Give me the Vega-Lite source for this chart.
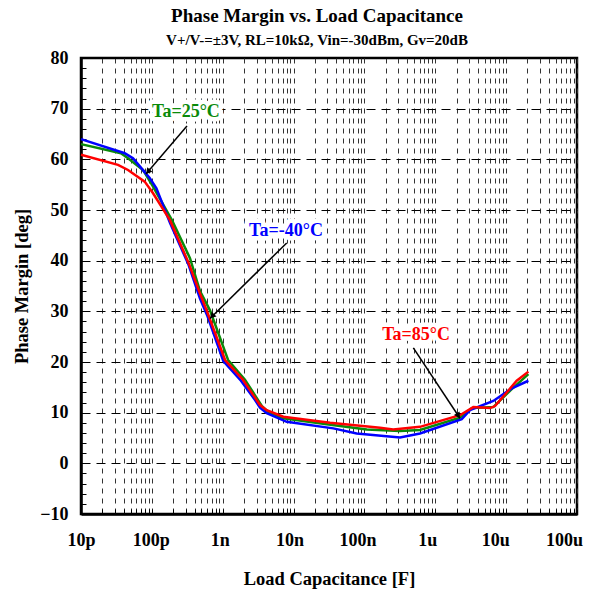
{
  "$schema": "https://vega.github.io/schema/vega-lite/v6.json",
  "width": 496,
  "height": 456,
  "autosize": "none",
  "padding": {"left": 81, "top": 58, "right": 19, "bottom": 75},
  "background": "white",
  "title": {
    "text": "Phase Margin vs. Load Capacitance",
    "subtitle": "V+/V-=±3V, RL=10kΩ, Vin=-30dBm, Gv=20dB",
    "font": "Liberation Serif",
    "fontSize": 19,
    "fontWeight": "bold",
    "color": "black",
    "subtitleFont": "Liberation Serif",
    "subtitleFontSize": 15,
    "subtitleFontWeight": "bold",
    "subtitleColor": "black",
    "subtitlePadding": 7,
    "anchor": "middle",
    "offset": 1,
    "dx": -12
  },
  "datasets": {
    "curves": [
      {"C": 1e-11, "PM": 63.0, "T": "Ta=25°C"},
      {"C": 3.66e-11, "PM": 61.2, "T": "Ta=25°C"},
      {"C": 4.61e-11, "PM": 60.2, "T": "Ta=25°C"},
      {"C": 7.5e-11, "PM": 57.9, "T": "Ta=25°C"},
      {"C": 1.04e-10, "PM": 54.6, "T": "Ta=25°C"},
      {"C": 1.92e-10, "PM": 48.0, "T": "Ta=25°C"},
      {"C": 3.45e-10, "PM": 40.5, "T": "Ta=25°C"},
      {"C": 4.78e-10, "PM": 34.0, "T": "Ta=25°C"},
      {"C": 6.61e-10, "PM": 30.2, "T": "Ta=25°C"},
      {"C": 1.19e-9, "PM": 20.4, "T": "Ta=25°C"},
      {"C": 2.06e-9, "PM": 16.5, "T": "Ta=25°C"},
      {"C": 3.58e-9, "PM": 11.3, "T": "Ta=25°C"},
      {"C": 4.36e-9, "PM": 10.2, "T": "Ta=25°C"},
      {"C": 7.16e-9, "PM": 8.9, "T": "Ta=25°C"},
      {"C": 2.93e-8, "PM": 7.7, "T": "Ta=25°C"},
      {"C": 1.08e-7, "PM": 6.7, "T": "Ta=25°C"},
      {"C": 3.18e-7, "PM": 6.4, "T": "Ta=25°C"},
      {"C": 6.08e-7, "PM": 6.6, "T": "Ta=25°C"},
      {"C": 2.23e-6, "PM": 9.0, "T": "Ta=25°C"},
      {"C": 3.27e-6, "PM": 10.9, "T": "Ta=25°C"},
      {"C": 6.59e-6, "PM": 11.1, "T": "Ta=25°C"},
      {"C": 1.17e-5, "PM": 14.5, "T": "Ta=25°C"},
      {"C": 2.06e-5, "PM": 17.6, "T": "Ta=25°C"},
      {"C": 1e-11, "PM": 64.0, "T": "Ta=-40°C"},
      {"C": 4.14e-11, "PM": 61.2, "T": "Ta=-40°C"},
      {"C": 5.42e-11, "PM": 60.2, "T": "Ta=-40°C"},
      {"C": 9.33e-11, "PM": 56.3, "T": "Ta=-40°C"},
      {"C": 1.16e-10, "PM": 54.3, "T": "Ta=-40°C"},
      {"C": 1.8e-10, "PM": 47.5, "T": "Ta=-40°C"},
      {"C": 3.27e-10, "PM": 39.3, "T": "Ta=-40°C"},
      {"C": 4.78e-10, "PM": 32.5, "T": "Ta=-40°C"},
      {"C": 6.0e-10, "PM": 29.3, "T": "Ta=-40°C"},
      {"C": 1.02e-9, "PM": 20.2, "T": "Ta=-40°C"},
      {"C": 1.81e-9, "PM": 16.3, "T": "Ta=-40°C"},
      {"C": 2.86e-9, "PM": 12.5, "T": "Ta=-40°C"},
      {"C": 3.36e-9, "PM": 11.0, "T": "Ta=-40°C"},
      {"C": 4.18e-9, "PM": 9.9, "T": "Ta=-40°C"},
      {"C": 8.0e-9, "PM": 8.2, "T": "Ta=-40°C"},
      {"C": 3.64e-8, "PM": 6.9, "T": "Ta=-40°C"},
      {"C": 7.78e-8, "PM": 5.9, "T": "Ta=-40°C"},
      {"C": 3.18e-7, "PM": 5.1, "T": "Ta=-40°C"},
      {"C": 6.08e-7, "PM": 5.9, "T": "Ta=-40°C"},
      {"C": 2.36e-6, "PM": 8.7, "T": "Ta=-40°C"},
      {"C": 3.09e-6, "PM": 10.5, "T": "Ta=-40°C"},
      {"C": 6.59e-6, "PM": 12.3, "T": "Ta=-40°C"},
      {"C": 1.2e-5, "PM": 14.8, "T": "Ta=-40°C"},
      {"C": 2.06e-5, "PM": 16.3, "T": "Ta=-40°C"},
      {"C": 1e-11, "PM": 60.9, "T": "Ta=85°C"},
      {"C": 3.33e-11, "PM": 58.9, "T": "Ta=85°C"},
      {"C": 4.61e-11, "PM": 57.9, "T": "Ta=85°C"},
      {"C": 7.93e-11, "PM": 55.6, "T": "Ta=85°C"},
      {"C": 1.04e-10, "PM": 53.3, "T": "Ta=85°C"},
      {"C": 1.8e-10, "PM": 48.0, "T": "Ta=85°C"},
      {"C": 3.27e-10, "PM": 39.7, "T": "Ta=85°C"},
      {"C": 4.78e-10, "PM": 33.5, "T": "Ta=85°C"},
      {"C": 6.0e-10, "PM": 30.0, "T": "Ta=85°C"},
      {"C": 1.08e-9, "PM": 20.4, "T": "Ta=85°C"},
      {"C": 1.93e-9, "PM": 16.5, "T": "Ta=85°C"},
      {"C": 3.36e-9, "PM": 11.5, "T": "Ta=85°C"},
      {"C": 4.18e-9, "PM": 10.5, "T": "Ta=85°C"},
      {"C": 7.16e-9, "PM": 9.2, "T": "Ta=85°C"},
      {"C": 3.27e-8, "PM": 8.0, "T": "Ta=85°C"},
      {"C": 1.66e-7, "PM": 7.0, "T": "Ta=85°C"},
      {"C": 2.55e-7, "PM": 6.7, "T": "Ta=85°C"},
      {"C": 6.08e-7, "PM": 7.2, "T": "Ta=85°C"},
      {"C": 2.23e-6, "PM": 9.5, "T": "Ta=85°C"},
      {"C": 3.44e-6, "PM": 11.1, "T": "Ta=85°C"},
      {"C": 5.92e-6, "PM": 10.9, "T": "Ta=85°C"},
      {"C": 6.97e-6, "PM": 11.3, "T": "Ta=85°C"},
      {"C": 1.41e-5, "PM": 16.3, "T": "Ta=85°C"},
      {"C": 2.06e-5, "PM": 18.1, "T": "Ta=85°C"}
    ],
    "labels": [
      {"T": "Ta=25°C", "C": 3.03e-10, "PM": 69.4},
      {"T": "Ta=-40°C", "C": 7.82e-9, "PM": 45.8},
      {"T": "Ta=85°C", "C": 5.35e-7, "PM": 25.4}
    ],
    "arrows": [
      {"T": "Ta=25°C", "C": 3.13e-10, "PM": 66.6, "C2": 8.26e-11, "PM2": 57.1, "Ch": 8.99e-11, "PMh": 57.7},
      {"T": "Ta=-40°C", "C": 8.0e-9, "PM": 43.5, "C2": 6.61e-10, "PM2": 28.6, "Ch": 7.24e-10, "PMh": 29.2},
      {"T": "Ta=85°C", "C": 4.9e-7, "PM": 22.8, "C2": 2.23e-6, "PM2": 8.9, "Ch": 2.08e-6, "PMh": 9.56}
    ]
  },
  "encoding": {
    "x": {
      "field": "C",
      "type": "quantitative",
      "scale": {"type": "log", "domain": [1e-11, 1e-4], "nice": false},
      "axis": {
        "title": "Load Capacitance [F]",
        "values": [1e-11,2e-11,3e-11,4e-11,5e-11,6e-11,7e-11,8e-11,9e-11,
                   1e-10,2e-10,3e-10,4e-10,5e-10,6e-10,7e-10,8e-10,9e-10,
                   1e-9,2e-9,3e-9,4e-9,5e-9,6e-9,7e-9,8e-9,9e-9,
                   1e-8,2e-8,3e-8,4e-8,5e-8,6e-8,7e-8,8e-8,9e-8,
                   1e-7,2e-7,3e-7,4e-7,5e-7,6e-7,7e-7,8e-7,9e-7,
                   1e-6,2e-6,3e-6,4e-6,5e-6,6e-6,7e-6,8e-6,9e-6,
                   1e-5,2e-5,3e-5,4e-5,5e-5,6e-5,7e-5,8e-5,9e-5,1e-4],
        "labelExpr": "abs(log(datum.value)/LN10 - round(log(datum.value)/LN10)) < 0.01 ? ['10p','100p','1n','10n','100n','1u','10u','100u'][round(log(datum.value)/LN10)+11] : ''",
        "labelOffset": {
          "condition": [
            {"test": "datum.value > 5e-5", "value": -13},
            {"test": "datum.value > 5e-6", "value": -11},
            {"test": "datum.value > 5e-7", "value": -8},
            {"test": "datum.value > 5e-8", "value": -7},
            {"test": "datum.value > 5e-9", "value": -4},
            {"test": "datum.value > 5e-10", "value": -3},
            {"test": "datum.value > 5e-11", "value": -1}
          ],
          "value": 0
        },
        "grid": true,
        "gridDash": [5, 5],
        "gridColor": "#333333",
        "gridWidth": 1,
        "tickSize": -5,
        "tickColor": "black",
        "tickWidth": 1,
        "labelPadding": 22,
        "labelFlush": false,
        "labelOverlap": false,
        "titlePadding": 20
      }
    },
    "y": {
      "field": "PM",
      "type": "quantitative",
      "scale": {"domain": [-10, 80], "nice": false, "zero": false},
      "axis": {
        "title": "Phase Margin [deg]",
        "values": [-10,-8,-6,-4,-2,0,2,4,6,8,10,12,14,16,18,20,22,24,26,28,30,32,34,36,38,40,42,44,46,48,50,52,54,56,58,60,62,64,66,68,70,72,74,76,78,80],
        "labelExpr": "datum.value % 10 === 0 ? datum.label : ''",
        "grid": true,
        "gridDash": [9, 6],
        "gridColor": "black",
        "gridWidth": 1,
        "gridOpacity": {"condition": {"test": "datum.value % 10 === 0", "value": 1}, "value": 0},
        "tickSize": -5,
        "tickColor": "black",
        "labelPadding": 18,
        "labelOverlap": false,
        "titlePadding": 8
      }
    }
  },
  "layer": [
    {
      "mark": {"type": "rule", "color": "black", "strokeWidth": 4},
      "encoding": {"y": {"datum": 0}, "x": null}
    },
    {
      "data": {"name": "labels"},
      "mark": {"type": "text", "font": "Liberation Serif", "fontSize": 18, "fontWeight": "bold", "align": "center", "baseline": "middle", "fill": "white", "stroke": "white", "strokeWidth": 9, "strokeJoin": "round"},
      "encoding": {
        "text": {"field": "T"}
      }
    },
    {
      "data": {"name": "curves"},
      "mark": {"type": "line", "strokeWidth": 2.5},
      "encoding": {
        "color": {
          "field": "T",
          "type": "nominal",
          "scale": {"domain": ["Ta=25°C", "Ta=-40°C", "Ta=85°C"], "range": ["#0a8a0a", "#0000ff", "#ff0000"]},
          "legend": null
        }
      }
    },
    {
      "data": {"name": "arrows"},
      "mark": {"type": "rule", "color": "black", "strokeWidth": 1.5},
      "encoding": {
        "x2": {"field": "C2"},
        "y2": {"field": "PM2"}
      }
    },
    {
      "data": {"name": "arrows"},
      "transform": [{"filter": "datum.T === 'Ta=25°C'"}],
      "mark": {"type": "point", "shape": "triangle", "filled": true, "color": "black", "size": 45, "angle": 220, "opacity": 1},
      "encoding": {"x": {"field": "Ch", "type": "quantitative"}, "y": {"field": "PMh", "type": "quantitative"}}
    },
    {
      "data": {"name": "arrows"},
      "transform": [{"filter": "datum.T === 'Ta=-40°C'"}],
      "mark": {"type": "point", "shape": "triangle", "filled": true, "color": "black", "size": 45, "angle": 225, "opacity": 1},
      "encoding": {"x": {"field": "Ch", "type": "quantitative"}, "y": {"field": "PMh", "type": "quantitative"}}
    },
    {
      "data": {"name": "arrows"},
      "transform": [{"filter": "datum.T === 'Ta=85°C'"}],
      "mark": {"type": "point", "shape": "triangle", "filled": true, "color": "black", "size": 45, "angle": 147, "opacity": 1},
      "encoding": {"x": {"field": "Ch", "type": "quantitative"}, "y": {"field": "PMh", "type": "quantitative"}}
    },
    {
      "data": {"name": "labels"},
      "mark": {"type": "text", "font": "Liberation Serif", "fontSize": 18, "fontWeight": "bold", "align": "center", "baseline": "middle"},
      "encoding": {
        "text": {"field": "T"},
        "color": {"field": "T", "type": "nominal", "legend": null}
      }
    }
  ],
  "config": {
    "view": {"stroke": "black", "strokeWidth": 2.5},
    "axis": {
      "domainColor": "black",
      "domainWidth": 2.5,
      "labelFont": "Liberation Serif",
      "labelFontSize": 18,
      "labelFontWeight": "bold",
      "labelColor": "black",
      "titleFont": "Liberation Serif",
      "titleFontSize": 18.5,
      "titleFontWeight": "bold",
      "titleColor": "black"
    }
  }
}
